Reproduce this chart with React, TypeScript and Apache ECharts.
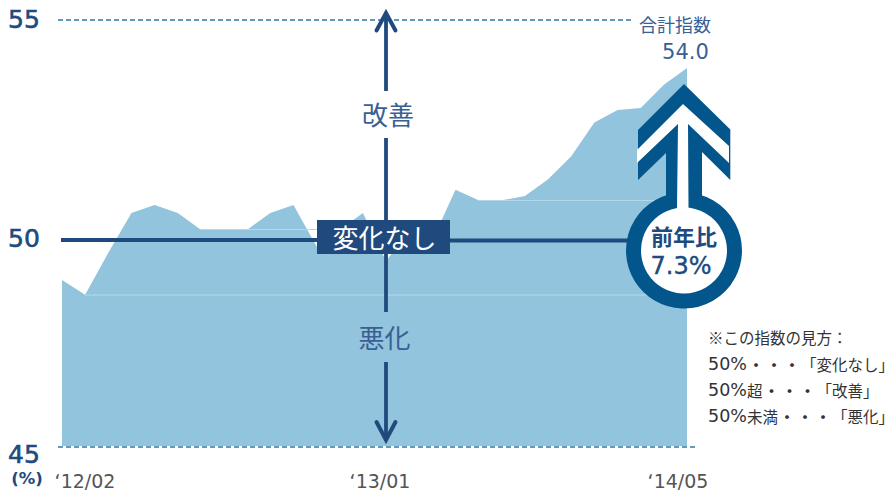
import React, { useEffect, useRef } from "react";
import * as echarts from "echarts";

const months = [
  "'12/02","'12/03","'12/04","'12/05","'12/06","'12/07","'12/08","'12/09","'12/10","'12/11","'12/12",
  "'13/01","'13/02","'13/03","'13/04","'13/05","'13/06","'13/07","'13/08","'13/09","'13/10","'13/11","'13/12",
  "'14/01","'14/02","'14/03","'14/04","'14/05",
];
const indexValues = [
  48.95, 48.6, 49.6, 50.55, 50.74, 50.55, 50.15, 50.15, 50.15, 50.55, 50.74,
  49.75, 50.15, 50.55, 49.4, 50.15, 49.9, 51.1, 50.85, 50.85, 50.95, 51.35, 51.9,
  52.7, 53.0, 53.05, 53.6, 54.0,
];
const yTickLabels = [
  { text: "55", y: 19 },
  { text: "50", y: 238 },
  { text: "45", y: 454 },
];
const xTickLabels = [
  { text: "‘12/02", x: 85 },
  { text: "‘13/01", x: 380 },
  { text: "‘14/05", x: 678 },
];
const noteTitle = "※この指数の見方：";
const noteRows = [
  { head: "50%", tail: "", label: "「変化なし」" },
  { head: "50%", tail: "超", label: "「改善」" },
  { head: "50%", tail: "未満", label: "「悪化」" },
];

const DARK = "#204A7D";
const TEXT = "#3A6093";
const RING = "#03568C";
const AREA = "#92C4DD";
const FAINT = "#B4D8E9";
const DASH = "#2F79A8";
const JP = '"Noto Sans CJK JP"';
const LATIN = '"DejaVu Sans"';

const txt = (text: string, x: number, y: number, font: string, fill: string, textAlign = "center", extra = {}) => ({
  type: "text",
  z: 30,
  style: { text, x, y, font, fill, textAlign, textVerticalAlign: "middle", ...extra },
});
const line = (x1: number, y1: number, x2: number, y2: number, stroke: string, lineWidth: number, z = 10, extra = {}) => ({
  type: "line",
  z,
  shape: { x1, y1, x2, y2 },
  style: { stroke, lineWidth, ...extra },
});
const poly = (points: number[][], fill: string, z: number) => ({ type: "polygon", z, shape: { points }, style: { fill } });
const arrowHead = (points: number[][]) => ({
  type: "polyline",
  z: 12,
  shape: { points },
  style: { stroke: DARK, lineWidth: 4, fill: "none", lineCap: "round", lineJoin: "miter" },
});

export default function App() {
  const ref = useRef<HTMLDivElement>(null);
  useEffect(() => {
    const chart = echarts.init(ref.current!, undefined, { renderer: "svg" });
    const graphic: any[] = [
      // dashed bounds
      line(58, 20, 633, 20, DASH, 1.4, 5, { lineDash: [5, 3] }),
      line(58, 447, 695, 447, DASH, 1.4, 5, { lineDash: [5, 3] }),
      // faint lines inside the area
      line(200, 229.5, 317, 229.5, FAINT, 1),
      line(85, 295, 690, 295, FAINT, 1),
      line(478, 200.5, 687, 200.5, FAINT, 1),
      // no-change line
      line(61, 240, 320, 240, DARK, 4, 11),
      line(448, 240.5, 628, 240.5, DARK, 4, 11),
      // improve / worsen arrows
      line(386, 14, 386, 91, DARK, 3.8, 12),
      line(386, 138, 386, 222, DARK, 3.8, 12),
      line(386, 252, 386, 312, DARK, 3.8, 12),
      line(386, 362, 386, 438, DARK, 3.8, 12),
      arrowHead([[376.5, 30.5], [386, 13], [395.5, 30.5]]),
      arrowHead([[376.5, 422], [386, 440], [395.5, 422]]),
      { type: "rect", z: 13, shape: { x: 317, y: 220, width: 133, height: 34 }, style: { fill: DARK } },
      txt("変化なし", 384.5, 236, `26px ${JP}`, "#FFFFFF"),
      txt("改善", 388, 113, `26px ${JP}`, TEXT),
      txt("悪化", 384.5, 336, `26px ${JP}`, TEXT),
      // year-on-year badge
      poly([[684, 84], [730.3, 129.5], [730.3, 180], [702, 152], [702, 200], [666, 200], [666, 153], [638, 180], [638, 130]], RING, 14),
      { type: "circle", z: 15, shape: { cx: 684, cy: 250.5, r: 50.5 }, style: { fill: "#FFFFFF", stroke: RING, lineWidth: 15 } },
      poly([[683, 104], [729, 146], [729, 163], [688, 124], [688.5, 208], [677, 208], [678, 124], [637, 163], [637, 150]], "#FFFFFF", 16),
      txt("前年比", 684, 235, `bold 22px ${JP}`, DARK),
      txt("7.3%", 681, 266, `24px ${LATIN}`, DARK, "center", { stroke: DARK, lineWidth: 0.4 }),
      // latest value
      txt("合計指数", 675, 24, `18px ${JP}`, TEXT),
      txt("54.0", 685.5, 52, `21px ${LATIN}`, TEXT),
      // axis unit
      txt("(%)", 27, 478, `bold 16.5px ${LATIN}`, DARK),
      ...yTickLabels.map((t) => txt(t.text, 24, t.y, `25px ${LATIN}`, DARK, "center", { stroke: DARK, lineWidth: 0.6 })),
      ...xTickLabels.map((t) => txt(t.text, t.x, 481, `19px ${LATIN}`, "#555555")),
      txt(noteTitle, 708, 337, `15.5px ${JP}`, "#333333", "left"),
      ...noteRows.map((r, i) => ({
        type: "text",
        z: 30,
        style: {
          x: 708,
          y: 363.5 + i * 26.4,
          textVerticalAlign: "middle",
          text: `{n|${r.head}}${r.tail ? `{j|${r.tail}}` : ""}{d|・・・}{j|${r.label}}`,
          rich: {
            n: { font: `17.5px ${LATIN}`, fill: "#333333" },
            j: { font: `15.5px ${JP}`, fill: "#333333" },
            d: { font: `18px ${JP}`, fill: "#333333" },
          },
        },
      })),
    ];
    chart.setOption({
      animation: false,
      grid: { left: 62, right: 198, top: 26, bottom: 45 },
      xAxis: {
        type: "category",
        data: months,
        boundaryGap: false,
        axisLine: { show: false },
        axisTick: { show: false },
        axisLabel: { show: false },
      },
      yAxis: {
        type: "value",
        min: 45,
        max: 55,
        interval: 5,
        axisLine: { show: false },
        axisTick: { show: false },
        axisLabel: { show: false },
        splitLine: { show: false },
      },
      series: [
        {
          type: "line",
          data: indexValues,
          symbol: "none",
          lineStyle: { width: 0 },
          areaStyle: { color: AREA, opacity: 1 },
        },
      ],
      graphic: { elements: graphic },
    });
    return () => chart.dispose();
  }, []);
  return <div ref={ref} style={{ position: "absolute", left: 0, top: 0, width: 885, height: 491, background: "#fff" }} />;
}
